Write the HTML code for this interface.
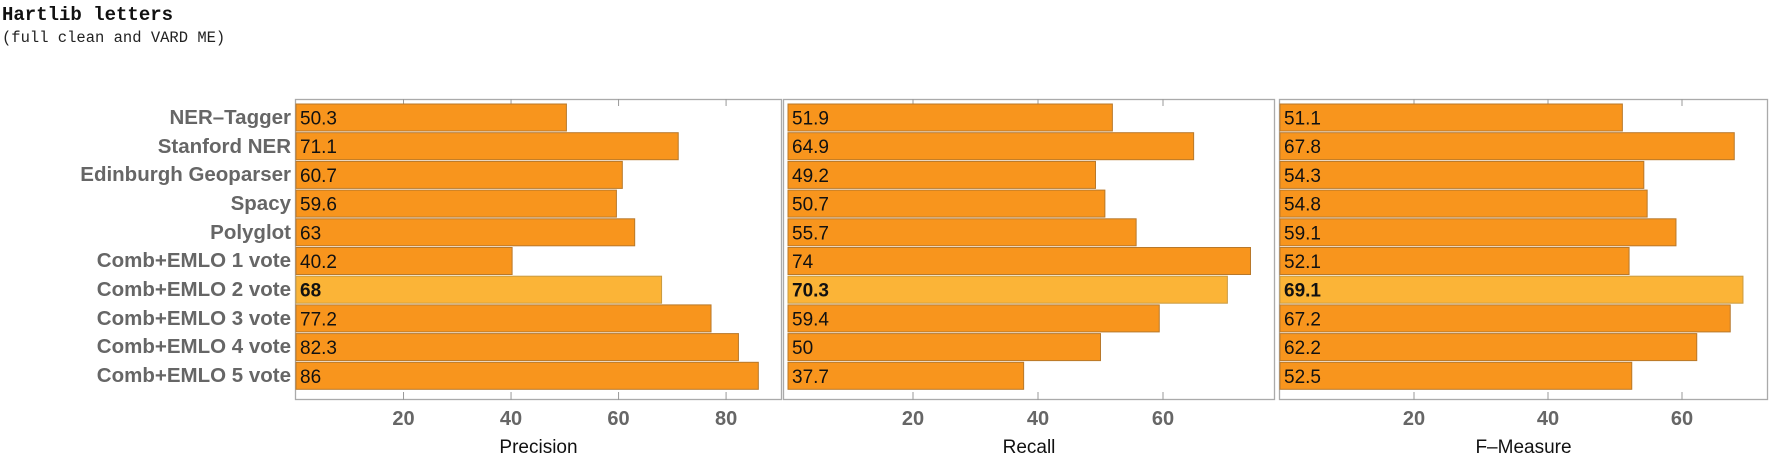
<!DOCTYPE html>
<html><head><meta charset="utf-8"><style>
body{margin:0;background:#fff;}
svg{display:block}
.lab{font-family:"Liberation Sans",sans-serif;font-weight:bold;font-size:20.5px;fill:#666;text-anchor:end}
.val{font-family:"Liberation Sans",sans-serif;font-size:19px;fill:#111}
.tk{font-family:"Liberation Sans",sans-serif;font-weight:bold;font-size:20px;fill:#666;text-anchor:middle}
.ax{font-family:"Liberation Sans",sans-serif;font-size:19px;fill:#111;text-anchor:middle}
</style></head><body>
<svg width="1772" height="458" xmlns="http://www.w3.org/2000/svg">
<text x="2" y="20" font-family="Liberation Mono,monospace" font-weight="bold" font-size="19" fill="#111">Hartlib letters</text>
<text x="2" y="42" font-family="Liberation Mono,monospace" font-size="15.5" fill="#222">(full clean and VARD ME)</text>
<g id="labels">
<text class="lab" x="291" y="124">NER–Tagger</text>
<text class="lab" x="291" y="153">Stanford NER</text>
<text class="lab" x="291" y="181">Edinburgh Geoparser</text>
<text class="lab" x="291" y="210">Spacy</text>
<text class="lab" x="291" y="239">Polyglot</text>
<text class="lab" x="291" y="267">Comb+EMLO 1 vote</text>
<text class="lab" x="291" y="296">Comb+EMLO 2 vote</text>
<text class="lab" x="291" y="325">Comb+EMLO 3 vote</text>
<text class="lab" x="291" y="353">Comb+EMLO 4 vote</text>
<text class="lab" x="291" y="382">Comb+EMLO 5 vote</text>
</g>
<script>
</script>
<g id="p"></g>
</svg>
<script>
const panels=[
 {l:295,r:782,z:296,s:5.376,t:[20,40,60,80],name:"Precision",v:[50.3,71.1,60.7,59.6,63,40.2,68,77.2,82.3,86]},
 {l:783,r:1275,z:788,s:6.25,t:[20,40,60],name:"Recall",v:[51.9,64.9,49.2,50.7,55.7,74,70.3,59.4,50,37.7]},
 {l:1279,r:1768,z:1280,s:6.7,t:[20,40,60],name:"F–Measure",v:[51.1,67.8,54.3,54.8,59.1,52.1,69.1,67.2,62.2,52.5]}];
let h="";
for(const p of panels){
 h+=`<rect x="${p.l+0.5}" y="99.5" width="${p.r-p.l-1}" height="300" fill="none" stroke="#aaa" stroke-width="1.3"/>`;
 for(const t of p.t){const x=p.z+t*p.s;
  h+=`<line x1="${x}" y1="400" x2="${x}" y2="392" stroke="#999"/><line x1="${x}" y1="99" x2="${x}" y2="106" stroke="#999"/>`;
  h+=`<text class="tk" x="${x}" y="425">${t}</text>`;}
 h+=`<text class="ax" x="${(p.l+p.r)/2}" y="453">${p.name}</text>`;
 p.v.forEach((v,i)=>{const y=104+i*28.7;const hl=i==6;
  h+=`<rect x="${p.z}" y="${y}" width="${v*p.s}" height="27" fill="${hl?'#fbb437':'#f8951d'}" stroke="${hl?'#c99a40':'#b8782a'}" stroke-width="1"/>`;
  h+=`<text class="val" x="${p.z+4}" y="${y+20.5}"${hl?' font-weight="bold"':''}>${v}</text>`;});
}
document.getElementById("p").innerHTML=h;
</script>
</body></html>
